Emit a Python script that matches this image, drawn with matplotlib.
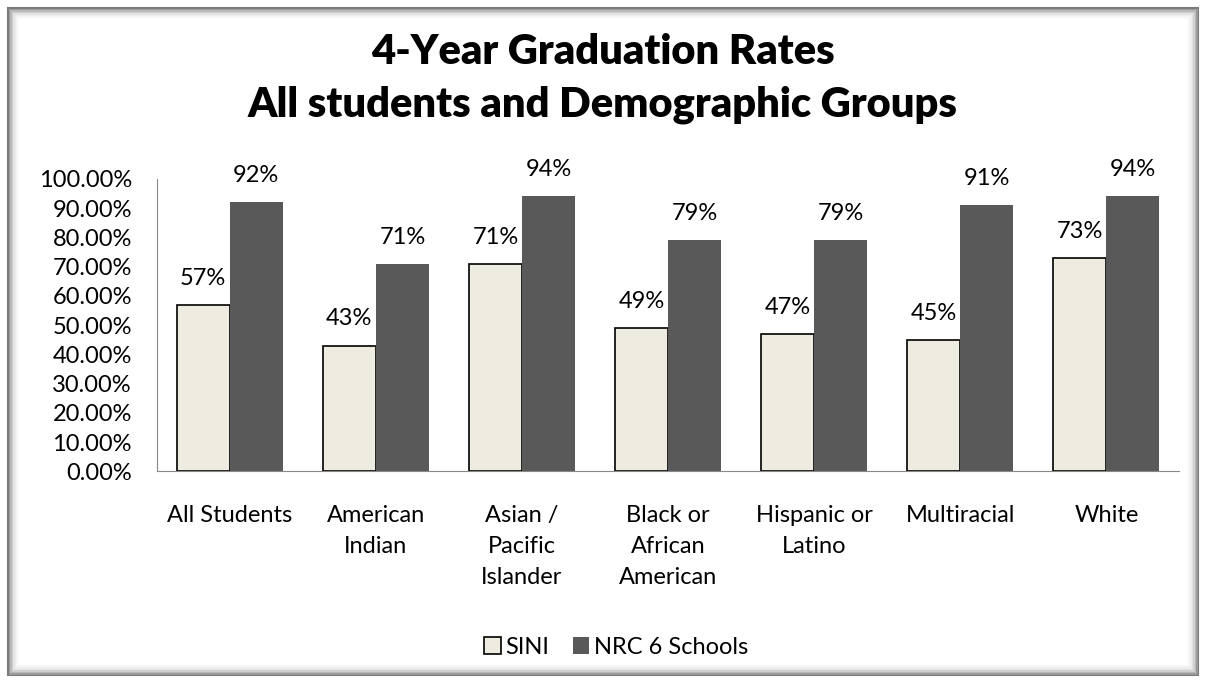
import numpy as np
import matplotlib.pyplot as plt
from matplotlib.patches import Rectangle
from matplotlib.ticker import FuncFormatter

plt.rcParams['font.family'] = ['Lato', 'DejaVu Sans']

categories = ['All Students', 'American\nIndian', 'Asian /\nPacific\nIslander',
              'Black or\nAfrican\nAmerican', 'Hispanic or\nLatino', 'Multiracial', 'White']
sini = [0.57, 0.43, 0.71, 0.49, 0.47, 0.45, 0.73]
nrc = [0.92, 0.71, 0.94, 0.79, 0.79, 0.91, 0.94]
series_names = ['SINI', 'NRC 6 Schools']

fig = plt.figure(figsize=(12.06, 6.83), dpi=100)
fig.patch.set_facecolor('white')

# frame with inner shadow
shades = ['#7a7a7a', '#9a9a9a', '#b8b8b8', '#d0d0d0', '#e2e2e2', '#eeeeee', '#f6f6f6']
w, h = 1206.0, 683.0
for i, c in enumerate(shades):
    m = 8 + i * 1.5
    fig.patches.append(Rectangle((m / w, m / h), 1 - 2 * m / w, 1 - 2 * m / h,
                                 transform=fig.transFigure, fill=False,
                                 edgecolor=c, linewidth=1.5, zorder=0))

ax = fig.add_axes([0.130, 0.310, 0.848, 0.428])
x = np.arange(len(categories))
bw = 0.363
r1 = ax.bar(x - bw / 2, sini, bw, color='#eeece1', edgecolor='black', linewidth=1.2,
            label=series_names[0])
r2 = ax.bar(x + bw / 2, nrc, bw, color='#595959', edgecolor='#595959', linewidth=0,
            label=series_names[1])

# value labels above bars
for rects, vals in [(r1, sini), (r2, nrc)]:
    for rect, v in zip(rects, vals):
        ax.text(rect.get_x() + rect.get_width() / 2, v + 0.055, '%d%%' % round(v * 100),
                ha='center', va='bottom', fontsize=17)

ax.set_xlim(-0.5, len(categories) - 0.5)
ax.set_ylim(0, 1.0)
ax.set_yticks(np.arange(0, 1.01, 0.1))
ax.yaxis.set_major_formatter(FuncFormatter(lambda v, p: '%.2f%%' % (v * 100)))
ax.set_xticks(x)
ax.set_xticklabels(categories, fontsize=17, va='top', linespacing=1.6)
ax.tick_params(axis='y', labelsize=17, length=0, pad=18)
ax.tick_params(axis='x', length=0, pad=24)
for s in ['top', 'right']:
    ax.spines[s].set_visible(False)
ax.spines['left'].set_color('#888888')
ax.spines['bottom'].set_color('#888888')

fig.text(0.5, 0.885, '4-Year Graduation Rates\nAll students and Demographic Groups',
         ha='center', va='center', fontsize=30, fontweight='heavy', linespacing=1.45)

leg = fig.legend(handles=[r1, r2], labels=series_names, loc='center',
                 bbox_to_anchor=(0.511, 0.052), ncol=2, frameon=False, fontsize=17,
                 handlelength=0.7, handleheight=0.7, handletextpad=0.2, columnspacing=1.0)

fig.savefig('out.png', dpi=100)
